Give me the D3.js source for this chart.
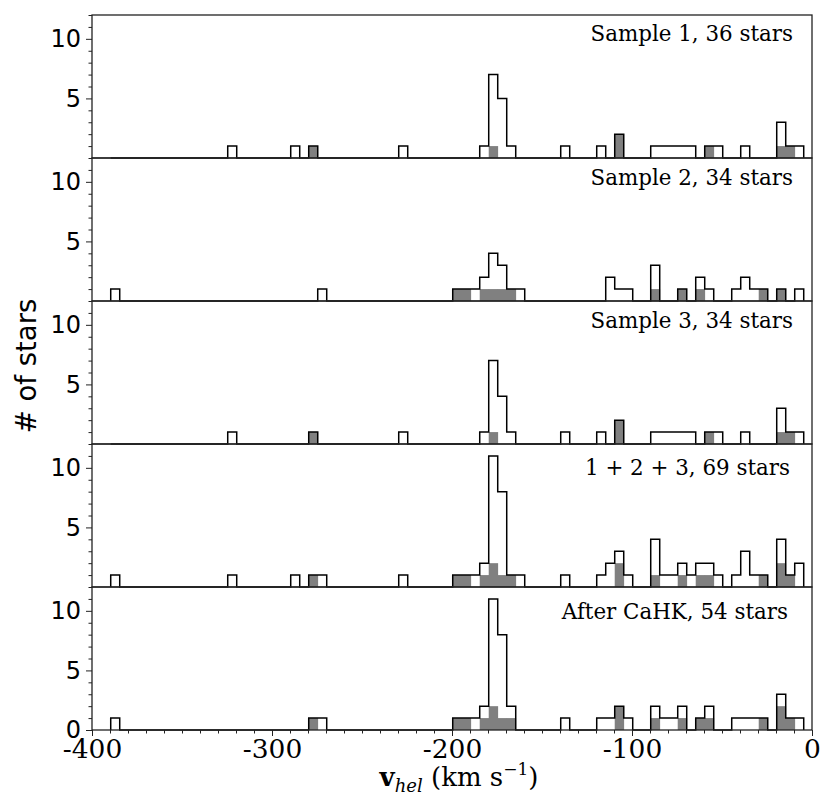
<!DOCTYPE html>
<html>
<head>
<meta charset="utf-8">
<script src="https://cdn.jsdelivr.net/npm/d3@7"></script>
<style>
  body { margin: 0; background: #fff; }
</style>
</head>
<body>
<svg id="chart" width="831" height="811"></svg>
<script>
// histogram bin grid (km/s)
var BIN_START = -389.6, BIN_WIDTH = 5, BIN_COUNT = 77;

var panelLabels = ['Sample 1, 36 stars', 'Sample 2, 34 stars', 'Sample 3, 34 stars',
                   '1 + 2 + 3, 69 stars', 'After CaHK, 54 stars'];

// per panel: bin centres (km/s), stars per bin, grey stars per bin
var s1Vel  = [-322.1, -287.1, -277.1, -227.1, -182.1, -177.1, -172.1, -167.1, -137.1, -117.1, -107.1,
              -87.1, -82.1, -77.1, -72.1, -67.1, -57.1, -52.1, -37.1, -17.1, -12.1, -7.1];
var s1All  = [1, 1, 1, 1, 1, 7, 5, 1, 1, 1, 2, 1, 1, 1, 1, 1, 1, 1, 1, 3, 1, 1];
var s1Grey = [0, 0, 1, 0, 0, 1, 0, 0, 0, 0, 2, 0, 0, 0, 0, 0, 1, 0, 0, 1, 1, 0];

var s2Vel  = [-387.1, -272.1, -197.1, -192.1, -187.1, -182.1, -177.1, -172.1, -167.1, -162.1, -112.1,
              -107.1, -102.1, -87.1, -72.1, -62.1, -57.1, -42.1, -37.1, -32.1, -27.1, -17.1, -7.1];
var s2All  = [1, 1, 1, 1, 1, 2, 4, 3, 1, 1, 2, 1, 1, 3, 1, 2, 1, 1, 2, 1, 1, 1, 1];
var s2Grey = [0, 0, 1, 1, 0, 1, 1, 1, 1, 0, 0, 0, 0, 1, 1, 1, 0, 0, 0, 0, 1, 1, 0];

var s3Vel  = [-322.1, -277.1, -227.1, -182.1, -177.1, -172.1, -167.1, -137.1, -117.1, -107.1,
              -87.1, -82.1, -77.1, -72.1, -67.1, -57.1, -52.1, -37.1, -17.1, -12.1, -7.1];
var s3All  = [1, 1, 1, 1, 7, 4, 1, 1, 1, 2, 1, 1, 1, 1, 1, 1, 1, 1, 3, 1, 1];
var s3Grey = [0, 1, 0, 0, 1, 0, 0, 0, 0, 2, 0, 0, 0, 0, 0, 1, 0, 0, 1, 1, 0];

var s4Vel  = [-387.1, -322.1, -287.1, -277.1, -272.1, -227.1, -197.1, -192.1, -187.1, -182.1, -177.1,
              -172.1, -167.1, -162.1, -137.1, -117.1, -112.1, -107.1, -102.1, -87.1, -82.1, -77.1,
              -72.1, -67.1, -62.1, -57.1, -52.1, -42.1, -37.1, -32.1, -27.1, -17.1, -12.1, -7.1];
var s4All  = [1, 1, 1, 1, 1, 1, 1, 1, 1, 2, 11, 8, 1, 1, 1, 1, 2, 3, 1, 4, 1, 1,
              2, 1, 2, 2, 1, 1, 3, 1, 1, 4, 1, 2];
var s4Grey = [0, 0, 0, 1, 0, 0, 1, 1, 0, 1, 2, 1, 1, 0, 0, 0, 0, 2, 0, 1, 0, 0,
              1, 0, 1, 1, 0, 0, 0, 0, 1, 2, 1, 0];

var s5Vel  = [-387.1, -277.1, -272.1, -197.1, -192.1, -187.1, -182.1, -177.1, -172.1, -167.1, -137.1,
              -117.1, -112.1, -107.1, -102.1, -87.1, -82.1, -77.1, -72.1, -62.1, -57.1,
              -42.1, -37.1, -32.1, -27.1, -17.1, -12.1, -7.1];
var s5All  = [1, 1, 1, 1, 1, 1, 2, 11, 8, 2, 1, 1, 1, 2, 1, 2, 1, 1, 2, 1, 2, 1, 1, 1, 1, 3, 1, 1];
var s5Grey = [0, 1, 0, 1, 1, 0, 1, 2, 1, 1, 0, 0, 0, 2, 0, 1, 0, 0, 1, 1, 1, 0, 0, 0, 1, 2, 1, 0];

var xMajor = [-400, -300, -200, -100, 0];
var yMajor = [5, 10];

var panels = [
    {vel: s1Vel, all: s1All, grey: s1Grey},
    {vel: s2Vel, all: s2All, grey: s2Grey},
    {vel: s3Vel, all: s3All, grey: s3Grey},
    {vel: s4Vel, all: s4All, grey: s4Grey},
    {vel: s5Vel, all: s5All, grey: s5Grey}
];

// label tweaks (right edge x, baseline offset from panel top)
var labelPos = [[793, 26], [793, 27], [793, 27], [790, 31], [788, 32]];

var LEFT = 92, RIGHT = 812, TOP = 15, PANEL_H = 143;

var svg = d3.select('#chart');

var x = d3.scaleLinear().domain([-400, 0]).range([LEFT, RIGHT]);

var edges = d3.range(BIN_COUNT + 1).map(function(i) { return BIN_START + i * BIN_WIDTH; });

function fillBins(vel, vals) {
    var out = new Array(BIN_COUNT).fill(0);
    vel.forEach(function(v, i) {
        out[Math.floor((v - BIN_START) / BIN_WIDTH)] = vals[i];
    });
    return out;
}

panels.forEach(function(p, pi) {
    var top = TOP + pi * PANEL_H;
    var bottom = top + PANEL_H;
    var y = d3.scaleLinear().domain([0, 12]).range([bottom, top]);
    var g = svg.append('g');

    var counts = fillBins(p.vel, p.all);
    var greys = fillBins(p.vel, p.grey);

    /* grey part of each bin */
    g.selectAll('rect.grey')
        .data(greys.map(function(c, i) { return {i: i, c: c}; }).filter(function(d) { return d.c > 0; }))
        .enter().append('rect')
        .attr('class', 'grey')
        .attr('x', function(d) { return x(edges[d.i]); })
        .attr('width', function(d) { return x(edges[d.i + 1]) - x(edges[d.i]) + 0.4; })
        .attr('y', function(d) { return y(d.c); })
        .attr('height', function(d) { return y(0) - y(d.c); })
        .style('fill', '#808080');

    /* step outline */
    var pts = [[edges[0], 0]];
    counts.forEach(function(c, i) {
        pts.push([edges[i], c]);
        pts.push([edges[i + 1], c]);
    });
    pts.push([edges[BIN_COUNT], 0]);

    var line = d3.line()
        .x(function(d) { return x(d[0]); })
        .y(function(d) { return y(d[1]); });

    g.append('path')
        .attr('d', line(pts))
        .style('fill', 'none')
        .style('stroke', 'black')
        .style('stroke-width', 1.5)
        .style('stroke-linejoin', 'miter');

    // frame
    g.append('rect')
        .attr('x', LEFT).attr('y', top)
        .attr('width', RIGHT - LEFT).attr('height', PANEL_H)
        .style('fill', 'none')
        .style('stroke', '#222')
        .style('stroke-width', 1.3);

    // y axis
    var last = pi === panels.length - 1;
    var yMinor = d3.range(0, 13).filter(function(v) { return v % 5 !== 0; });
    g.append('g')
        .attr('transform', 'translate(' + LEFT + ',0)')
        .call(d3.axisLeft(y).tickValues(yMinor).tickSize(3.5).tickFormat(''))
        .call(function(a) { a.select('.domain').remove(); });
    var ya = g.append('g')
        .attr('transform', 'translate(' + LEFT + ',0)')
        .call(d3.axisLeft(y).tickValues(last ? [0].concat(yMajor) : yMajor).tickSize(6).tickPadding(5));
    ya.select('.domain').remove();
    ya.selectAll('text')
        .style('font-family', '"DejaVu Sans", sans-serif')
        .style('font-size', '24px')
        .style('fill', 'black');

    // label
    g.append('text')
        .attr('x', labelPos[pi][0])
        .attr('y', top + labelPos[pi][1])
        .attr('text-anchor', 'end')
        .style('font-family', '"DejaVu Serif", serif')
        .style('font-size', '21.4px')
        .text(panelLabels[pi]);

    if (last) {
        g.append('g')
            .attr('transform', 'translate(0,' + bottom + ')')
            .call(d3.axisBottom(x).tickValues(d3.range(-400, 1, 10)).tickSize(3.5).tickFormat(''))
            .call(function(a) { a.select('.domain').remove(); });
        var xa = g.append('g')
            .attr('transform', 'translate(0,' + bottom + ')')
            .call(d3.axisBottom(x).tickValues(xMajor).tickSize(6).tickPadding(3)
                .tickFormat(function(d) { return String(d); }));
        xa.select('.domain').remove();
        xa.selectAll('text')
            .style('font-family', '"DejaVu Serif", serif')
            .style('font-size', '26.5px')
            .style('fill', 'black');
    }
});

svg.selectAll('.tick line').style('stroke', '#222');

// axis titles
var xl = svg.append('text')
    .attr('x', 459)
    .attr('y', 786)
    .attr('text-anchor', 'middle')
    .style('font-family', '"DejaVu Serif", serif')
    .style('font-size', '26px');
xl.append('tspan').style('font-weight', 'bold').text('v');
xl.append('tspan').attr('dy', 6).style('font-style', 'italic').style('font-size', '18px').text('hel');
xl.append('tspan').attr('dy', -6).text(' (km s');
xl.append('tspan').attr('dy', -11).style('font-size', '17px').text('\u22121');
xl.append('tspan').attr('dy', 11).text(')');

svg.append('text')
    .attr('transform', 'translate(36,366) rotate(-90)')
    .attr('text-anchor', 'middle')
    .style('font-family', '"DejaVu Sans", sans-serif')
    .style('font-size', '27.5px')
    .text('# of stars');
</script>
</body>
</html>
